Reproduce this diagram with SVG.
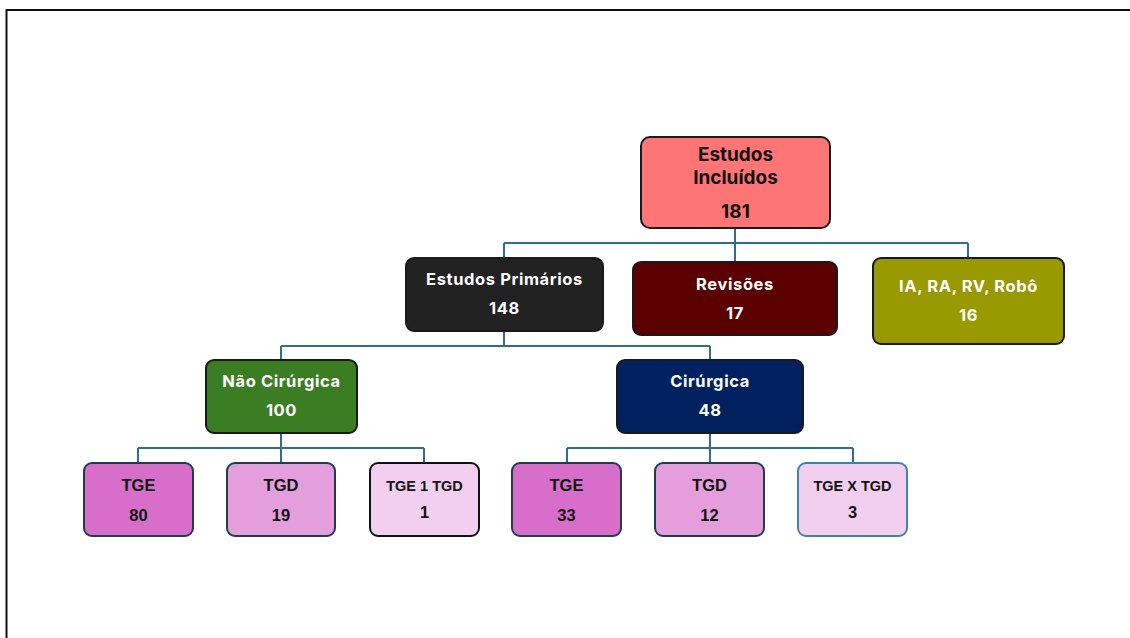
<svg xmlns="http://www.w3.org/2000/svg" width="1130" height="638" viewBox="0 0 1130 638">
<style>
.node{stroke:#1a1a1a;stroke-width:2}
.t{font-family:Inter,"Liberation Sans",sans-serif;font-weight:700;text-anchor:middle}
.w{fill:#ffffff;font-size:16.5px;letter-spacing:0.6px}
.k{fill:#111111}
.lf{font-family:"Liberation Sans",Arial,sans-serif;font-weight:700;text-anchor:middle;fill:#111111}
.conn{fill:none;stroke:#2f6f8c;stroke-width:2}
</style>
<rect x="0" y="0" width="1130" height="638" fill="#ffffff"/>
<rect x="6.5" y="10" width="1140" height="650" fill="none" stroke="#111111" stroke-width="2"/>
<g id="connectors">
<path class="conn" d="M735,228 V243 M504,243 H968 M504,243 V258 M735,243 V262 M968,243 V258"/>
<path class="conn" d="M504,331 V346 M281,346 H710 M281,346 V360 M710,346 V360"/>
<path class="conn" d="M281,433 V448 M138,448 H424 M138,448 V463 M281,448 V463 M424,448 V463"/>
<path class="conn" d="M710,433 V448 M567,448 H853 M567,448 V463 M710,448 V463 M853,448 V463"/>
</g>
<g id="root">
<rect class="node" x="641" y="137" width="189" height="91" rx="9" fill="#ff7575"/>
<text class="t k" x="735.5" y="161" font-size="19">Estudos</text>
<text class="t k" x="735.5" y="184" font-size="19">Incluídos</text>
<text class="t k" x="735.5" y="218" font-size="19">181</text>
</g>
<g id="primarios">
<rect class="node" x="406" y="258" width="197" height="73" rx="8" fill="#222222"/>
<text class="t w" x="504.5" y="285">Estudos Primários</text>
<text class="t w" x="504.5" y="314">148</text>
</g>
<g id="revisoes">
<rect class="node" x="633" y="262" width="204" height="73" rx="8" fill="#5a0000"/>
<text class="t w" x="735" y="290">Revisões</text>
<text class="t w" x="735" y="319">17</text>
</g>
<g id="ia">
<rect class="node" x="873" y="258" width="191" height="86" rx="8" fill="#999900"/>
<text class="t w" x="968.5" y="292">IA, RA, RV, Robô</text>
<text class="t w" x="968.5" y="321">16</text>
</g>
<g id="naocirurgica">
<rect class="node" x="206" y="360" width="151" height="73" rx="8" fill="#3b7d23"/>
<text class="t w" x="281.5" y="387">Não Cirúrgica</text>
<text class="t w" x="281.5" y="416">100</text>
</g>
<g id="cirurgica">
<rect class="node" x="617" y="360" width="186" height="73" rx="8" fill="#002060"/>
<text class="t w" x="710" y="387">Cirúrgica</text>
<text class="t w" x="710" y="416">48</text>
</g>
<g id="nc-tge">
<rect x="84" y="463" width="109" height="73" rx="8" fill="#d76fca" stroke="#1d3c4c" stroke-width="2"/>
<text class="lf" x="138.5" y="490.5" font-size="16.5">TGE</text>
<text class="lf" x="138.5" y="520.5" font-size="16.5">80</text>
</g>
<g id="nc-tgd">
<rect x="227" y="463" width="108" height="73" rx="8" fill="#e49edc" stroke="#1d3c4c" stroke-width="2"/>
<text class="lf" x="281" y="490.5" font-size="16.5">TGD</text>
<text class="lf" x="281" y="520.5" font-size="16.5">19</text>
</g>
<g id="nc-tge1tgd">
<rect x="370" y="463" width="109" height="73" rx="8" fill="#f2cfee" stroke="#111111" stroke-width="2"/>
<text class="lf" x="424.5" y="491" font-size="14.5">TGE 1 TGD</text>
<text class="lf" x="424.5" y="517.5" font-size="16.5">1</text>
</g>
<g id="c-tge">
<rect x="512" y="463" width="109" height="73" rx="8" fill="#d76fca" stroke="#1d3c4c" stroke-width="2"/>
<text class="lf" x="566.5" y="490.5" font-size="16.5">TGE</text>
<text class="lf" x="566.5" y="520.5" font-size="16.5">33</text>
</g>
<g id="c-tgd">
<rect x="655" y="463" width="109" height="73" rx="8" fill="#e49edc" stroke="#1d3c4c" stroke-width="2"/>
<text class="lf" x="709.5" y="490.5" font-size="16.5">TGD</text>
<text class="lf" x="709.5" y="520.5" font-size="16.5">12</text>
</g>
<g id="c-tgextgd">
<rect x="798" y="463" width="109" height="73" rx="8" fill="#f2cfee" stroke="#3a86a8" stroke-width="2"/>
<text class="lf" x="852.5" y="491" font-size="14.5">TGE X TGD</text>
<text class="lf" x="852.5" y="517.5" font-size="16.5">3</text>
</g>
</svg>
